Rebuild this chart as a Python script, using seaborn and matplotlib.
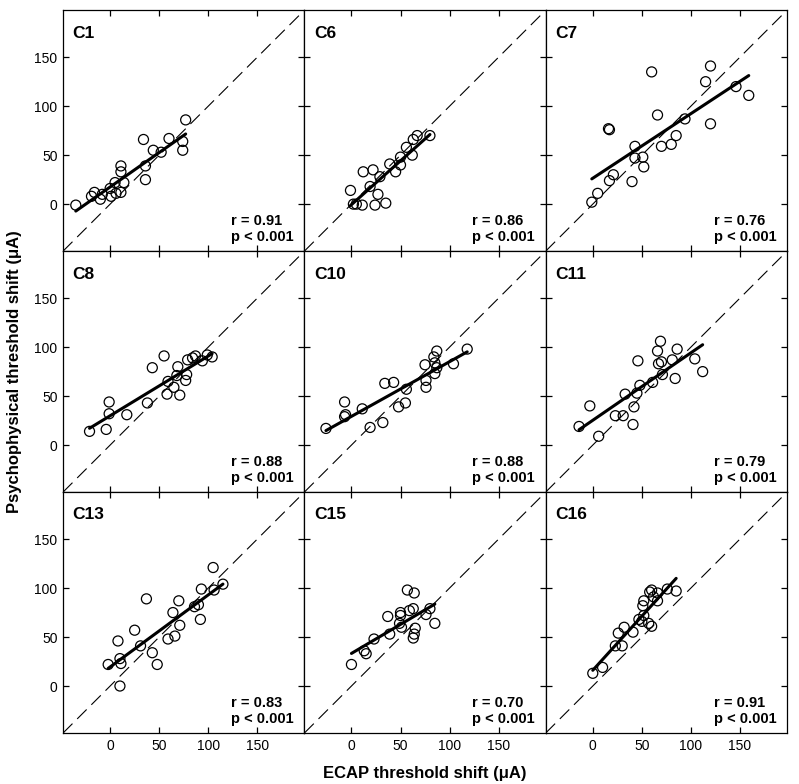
import numpy as np
import pandas as pd
import matplotlib
matplotlib.use("Agg")
import matplotlib.pyplot as plt
import seaborn as sns

sns.set_style("ticks")
plt.rcParams['font.family'] = ['Liberation Sans', 'DejaVu Sans']
plt.rcParams.update({"text.color": "black", "axes.labelcolor": "black",
                     "xtick.color": "black", "ytick.color": "black",
                     "axes.edgecolor": "black"})

# ECAP (x) and psychophysical (y) threshold shifts per subject, in uA
c1_ecap = [-35, -19, -16, -10, -8, 0, 1, 5, 6, 11, 11, 11, 14, 34, 36, 36, 44, 52, 60, 74, 74, 77]
c1_psych = [-1, 8, 12, 5, 10, 16, 8, 22, 11, 39, 33, 12, 22, 66, 39, 25, 55, 53, 67, 64, 55, 86]

c6_ecap = [-1, 2, 5, 11, 12, 19, 22, 24, 27, 29, 35, 39, 45, 50, 50, 56, 62, 63, 67, 80]
c6_psych = [14, 0, 0, -1, 33, 18, 35, -1, 10, 28, 1, 41, 33, 48, 40, 58, 50, 66, 70, 70]

c7_ecap = [-1, 5, 16, 17, 17, 21, 40, 43, 43, 51, 52, 60, 66, 70, 80, 85, 94, 115, 120, 120, 146, 159]
c7_psych = [2, 11, 77, 76, 24, 30, 23, 59, 47, 48, 38, 135, 91, 59, 61, 70, 87, 125, 141, 82, 120, 111]

c8_ecap = [-21, -4, -1, -1, 17, 38, 43, 55, 58, 59, 65, 68, 69, 71, 77, 78, 79, 84, 87, 94, 99, 104]
c8_psych = [14, 16, 32, 44, 31, 43, 79, 91, 52, 65, 59, 71, 80, 51, 66, 72, 87, 89, 91, 86, 92, 90]

c10_ecap = [-26, -7, -7, -6, 11, 19, 32, 34, 43, 48, 55, 56, 75, 76, 76, 84, 85, 87, 85, 87, 104, 118]
c10_psych = [17, 44, 29, 31, 37, 18, 23, 63, 64, 39, 43, 57, 82, 66, 59, 90, 84, 96, 73, 79, 83, 98]

c11_ecap = [-14, -3, 6, 23, 31, 33, 42, 41, 45, 46, 48, 61, 66, 67, 70, 69, 71, 81, 84, 86, 104, 112]
c11_psych = [19, 40, 9, 30, 30, 52, 39, 21, 53, 86, 61, 64, 96, 83, 85, 106, 72, 87, 68, 98, 88, 75]

c13_ecap = [-2, 8, 10, 11, 10, 25, 31, 37, 43, 48, 59, 64, 66, 70, 71, 86, 90, 92, 93, 105, 106, 115]
c13_psych = [22, 46, 28, 23, 0, 57, 41, 89, 34, 22, 48, 75, 51, 87, 62, 81, 83, 68, 99, 121, 98, 104]

c15_ecap = [0, 13, 15, 23, 37, 39, 49, 50, 50, 51, 57, 59, 63, 64, 65, 64, 63, 76, 80, 85]
c15_psych = [22, 36, 33, 48, 71, 53, 64, 75, 72, 60, 98, 77, 79, 95, 59, 53, 49, 73, 79, 64]

c16_ecap = [0, 10, 23, 26, 30, 32, 41, 47, 50, 52, 51, 52, 57, 60, 58, 60, 62, 66, 66, 76, 85]
c16_psych = [13, 19, 41, 54, 41, 60, 55, 68, 66, 72, 82, 87, 64, 61, 96, 98, 91, 95, 87, 99, 97]

panel_names = ["C1", "C6", "C7", "C8", "C10", "C11", "C13", "C15", "C16"]
panel_x = [c1_ecap, c6_ecap, c7_ecap, c8_ecap, c10_ecap, c11_ecap, c13_ecap, c15_ecap, c16_ecap]
panel_y = [c1_psych, c6_psych, c7_psych, c8_psych, c10_psych, c11_psych, c13_psych, c15_psych, c16_psych]
r_values = ["0.91", "0.86", "0.76", "0.88", "0.88", "0.79", "0.83", "0.70", "0.91"]
p_text = "p < 0.001"

ticks = [0, 50, 100, 150]
lim = (-48, 198)

fig, axes = plt.subplots(3, 3, figsize=(7.99, 7.84), dpi=100, sharex=True, sharey=True)
fig.subplots_adjust(left=0.0789, right=0.985, top=0.987, bottom=0.065, wspace=0, hspace=0)

for i, ax in enumerate(axes.flat):
    df = pd.DataFrame({"ecap": panel_x[i], "psych": panel_y[i]})
    # identity line
    ax.plot(lim, lim, color="black", lw=0.8, ls=(0, (12, 6)), zorder=1)
    sns.regplot(data=df, x="ecap", y="psych", ax=ax, ci=None, truncate=True,
                scatter_kws=dict(s=52, facecolors="none", edgecolors="black",
                                 linewidths=0.9, alpha=1, zorder=3),
                line_kws=dict(color="black", lw=2.2, zorder=2))
    ax.set_xlim(lim)
    ax.set_ylim(lim)
    ax.set_xticks(ticks)
    ax.set_yticks(ticks)
    ax.set_xlabel("")
    ax.set_ylabel("")
    ax.tick_params(direction="in", top=True, right=True, length=4, width=0.9,
                   labelsize=10, pad=4)
    for sp in ax.spines.values():
        sp.set_visible(True)
        sp.set_linewidth(0.9)
    ax.text(0.04, 0.905, panel_names[i], transform=ax.transAxes, fontsize=12.5,
            fontweight="bold", ha="left", va="center")
    ax.text(0.955, 0.03, f"r = {r_values[i]}\n{p_text}", transform=ax.transAxes,
            fontsize=10.5, fontweight="bold", ha="right", va="bottom",
            multialignment="left", linespacing=1.15)

fig.text(0.532, 0.014, "ECAP threshold shift (μA)", ha="center", va="center",
         fontsize=12, fontweight="bold")
fig.text(0.018, 0.526, "Psychophysical threshold shift (μA)", ha="center", va="center",
         rotation=90, fontsize=12, fontweight="bold")

fig.savefig("out.png", dpi=100)
